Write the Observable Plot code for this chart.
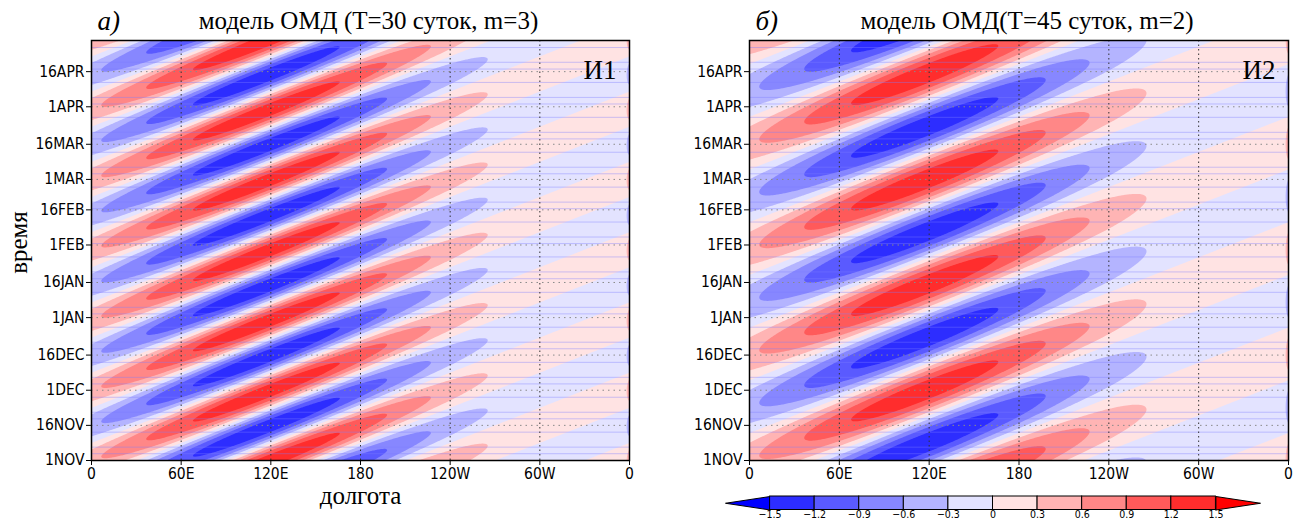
<!DOCTYPE html>
<html><head><meta charset="utf-8">
<script src="https://cdn.jsdelivr.net/npm/d3@7"></script>
<script src="https://cdn.jsdelivr.net/npm/@observablehq/plot@0.6"></script>
<style>
html,body{margin:0;padding:0;background:#fff}
body{width:1304px;height:520px;overflow:hidden;position:relative}
.abs{position:absolute}
</style></head><body>
<div id="pa" class="abs" style="left:0;top:0"></div>
<div id="pb" class="abs" style="left:650px;top:0"></div>
<div id="cb" class="abs" style="left:700px;top:486px"></div>
<script>
// ---------- data ----------
const lonTicks = [0, 60, 120, 180, 240, 300, 360];
const lonTickLabels = ["0", "60E", "120E", "180", "120W", "60W", "0"];
const lonGrid = [60, 120, 180, 240, 300];
const dayTicks = [0, 15, 30, 45, 61, 76, 92, 107, 120, 135, 151, 166];
const dayTickLabels = ["1NOV", "16NOV", "1DEC", "16DEC", "1JAN", "16JAN", "1FEB", "16FEB", "1MAR", "16MAR", "1APR", "16APR"];
const dayMax = 179.3;
// amplitude envelope of the wave along longitude (estimated from contour extents)
const envelopeLon = [0, 15, 30, 45, 60, 75, 90, 105, 120, 135, 150, 165, 180, 195, 210, 225, 240, 255, 270, 285, 300, 315, 330, 345, 355, 360];
const envelopeAmp = [0.54, 0.68, 0.83, 0.99, 1.13, 1.26, 1.36, 1.42, 1.43, 1.40, 1.32, 1.21, 1.08, 0.93, 0.77, 0.62, 0.49, 0.37, 0.27, 0.19, 0.13, 0.09, 0.06, 0.04, 0.03, 0.54];
// wave parameters (titles) and crest longitude at 1 Nov
const panelTags = ["И1", "И2"];
const panelLetters = ["а)", "б)"];
const panelTitles = ["модель ОМД (T=30 суток, m=3)", "модель ОМД(T=45 суток, m=2)"];
const periodDays = [30, 45];
const zonalWavenumber = [3, 2];
const crestLonDay0 = [0, -2];
// contour levels and colours
const levels = [-1.5, -1.2, -0.9, -0.6, -0.3, 0, 0.3, 0.6, 0.9, 1.2, 1.5];
const levelLabels = ["\u22121.5", "\u22121.2", "\u22120.9", "\u22120.6", "\u22120.3", "0", "0.3", "0.6", "0.9", "1.2", "1.5"];
const levelColors = ["#0000ff", "#2d2dff", "#5a5aff", "#8787ff", "#b4b4ff", "#e3e3ff", "#ffe3e3", "#ffb4b4", "#ff8787", "#ff5a5a", "#ff2d2d", "#ff0000"];
// faint horizontal streaks visible in the original rendering (days)
const streakDays = [2.9, 5.7, 12.1, 17.8, 20.6, 27, 32.7, 35.5, 41.9, 47.7, 50.5, 56.9, 62.6, 65.4, 71.8, 77.6, 80.5, 86.9, 92.6, 95.4, 101.8, 107.5, 110.3, 116.7, 122.4, 125.2, 131.6, 137.3, 140.1, 146.5, 152.2, 155, 161.4, 167.1, 170, 176.3];

// ---------- helpers ----------
const NARROW = "'Liberation Sans Narrow','DejaVu Sans Condensed','Arial Narrow',sans-serif";
const SERIF = "'Liberation Serif','DejaVu Serif',serif";

function monotone(xs, ys) {
  const n = xs.length, d = [], m = new Array(n);
  for (let i = 0; i < n - 1; i++) d.push((ys[i + 1] - ys[i]) / (xs[i + 1] - xs[i]));
  m[0] = d[0]; m[n - 1] = d[n - 2];
  for (let i = 1; i < n - 1; i++) m[i] = d[i - 1] * d[i] <= 0 ? 0 : (d[i - 1] + d[i]) / 2;
  for (let i = 0; i < n - 1; i++) {
    if (d[i] === 0) { m[i] = m[i + 1] = 0; continue; }
    const a = m[i] / d[i], b = m[i + 1] / d[i], s = a * a + b * b;
    if (s > 9) { const t = 3 / Math.sqrt(s); m[i] = t * a * d[i]; m[i + 1] = t * b * d[i]; }
  }
  return x => {
    let i = d3.bisectRight(xs, x) - 1; i = Math.max(0, Math.min(n - 2, i));
    const h = xs[i + 1] - xs[i], t = (x - xs[i]) / h, t2 = t * t, t3 = t2 * t;
    return (2 * t3 - 3 * t2 + 1) * ys[i] + (t3 - 2 * t2 + t) * h * m[i] + (-2 * t3 + 3 * t2) * ys[i + 1] + (t3 - t2) * h * m[i + 1];
  };
}
const envelope = monotone(envelopeLon, envelopeAmp);

function panel(k, opts) {
  const T = periodDays[k], m = zonalWavenumber[k], c0 = crestLonDay0[k];
  const value = (lon, day) => envelope(lon) * Math.cos(2 * Math.PI * (m * (lon - c0) / 360 - day / T));
  const txt = {fontFamily: SERIF, fill: "black", lineAnchor: "middle"};
  const marks = [
    Plot.contour({value, x1: 0, x2: 360, y1: 0, y2: dayMax, thresholds: [-9, ...levels], fill: "value", stroke: "none", pixelSize: 1}),
    Plot.ruleY(streakDays, {stroke: "#7c7cff", strokeOpacity: 0.4, strokeWidth: 1}),
    Plot.ruleY(dayTicks.slice(1), {stroke: "#8a8a8a", strokeDasharray: "1.5,4", strokeWidth: 1}),
    Plot.ruleX(lonGrid, {stroke: "#333", strokeDasharray: "1.5,3", strokeWidth: 1}),
    Plot.frame({stroke: "black", strokeWidth: 1.5}),
    Plot.axisX({ticks: lonTicks, tickFormat: d => lonTickLabels[lonTicks.indexOf(d)], tickSize: 5, tickPadding: 2, label: null, fontSize: 15.5}),
    Plot.axisY({ticks: dayTicks, tickFormat: d => dayTickLabels[dayTicks.indexOf(d)], tickSize: 5, tickPadding: 2, label: null, fontSize: 15.5}),
    Plot.text([panelTitles[k]], {...txt, frameAnchor: "top", textAnchor: "middle", dx: 8, dy: -20, fontSize: 25}),
    Plot.text([panelLetters[k]], {...txt, frameAnchor: "top-left", textAnchor: "start", dx: 6, dy: -19, fontSize: 27, fontStyle: "italic"}),
    Plot.text([panelTags[k]], {...txt, frameAnchor: "top-right", textAnchor: "end", dx: -13, dy: 30, fontSize: 27})
  ];
  if (opts.labels) {
    marks.push(Plot.text(["время"], {...txt, frameAnchor: "left", textAnchor: "middle", dx: -73, dy: -8, rotate: -90, fontSize: 25}));
    marks.push(Plot.text(["долгота"], {...txt, frameAnchor: "bottom", textAnchor: "middle", dy: 35, fontSize: 25}));
  }
  return Plot.plot({
    width: opts.width, height: 520,
    marginLeft: opts.marginLeft, marginRight: opts.marginRight, marginTop: 40, marginBottom: 60,
    x: {domain: [0, 360]},
    y: {domain: [0, dayMax]},
    color: {type: "threshold", domain: levels, range: levelColors},
    style: {fontFamily: NARROW, fontSize: "15.5px", color: "black", background: "transparent"},
    marks
  });
}

document.getElementById("pa").append(panel(0, {width: 650, marginLeft: 91, marginRight: 21, labels: true}));
document.getElementById("pb").append(panel(1, {width: 654, marginLeft: 99, marginRight: 16, labels: false}));

// ---------- colour bar ----------
const bins = levels.slice(0, -1).map((v, i) => ({i, color: levelColors[i + 1]}));
const tri = [
  {side: "lo", x: 0, y: 0, color: levelColors[0]}, {side: "lo", x: -1, y: 0.5, color: levelColors[0]}, {side: "lo", x: 0, y: 1, color: levelColors[0]}, {side: "lo", x: 0, y: 0, color: levelColors[0]},
  {side: "hi", x: 10, y: 0, color: levelColors[11]}, {side: "hi", x: 11, y: 0.5, color: levelColors[11]}, {side: "hi", x: 10, y: 1, color: levelColors[11]}, {side: "hi", x: 10, y: 0, color: levelColors[11]}
];
const cb = Plot.plot({
  width: 600, height: 34, marginLeft: 25, marginRight: 40, marginTop: 10, marginBottom: 10.5,
  x: {domain: [-1, 11], axis: null}, y: {domain: [0, 1], axis: null},
  color: {type: "identity"},
  style: {fontFamily: NARROW, fontSize: "10.5px", color: "black", background: "transparent"},
  marks: [
    Plot.line(tri, {x: "x", y: "y", z: "side", fill: "color", stroke: "black", strokeWidth: 1}),
    Plot.rect(bins, {x1: d => d.i, x2: d => d.i + 1, y1: 0, y2: 1, fill: "color", stroke: "black", strokeWidth: 1}),
    Plot.text(levelLabels, {x: (d, i) => i, y: 0, dy: 5, lineAnchor: "middle", fontSize: 10.5, fill: "black"})
  ]
});
document.getElementById("cb").append(cb);
</script>
</body></html>
